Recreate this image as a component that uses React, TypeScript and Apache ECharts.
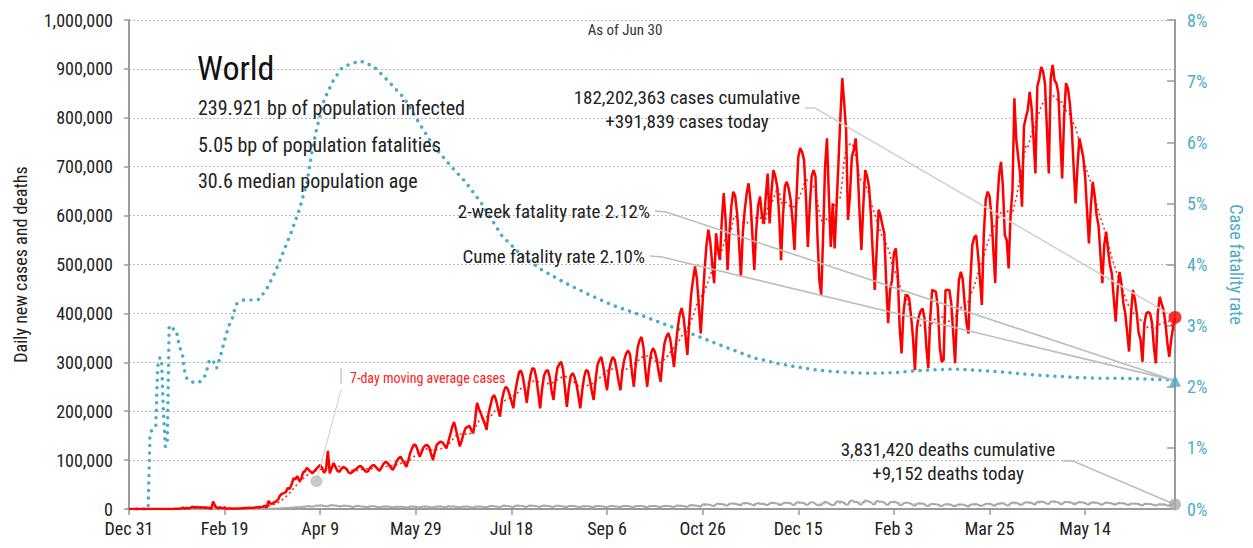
import React, { useEffect, useRef } from "react";
import * as echarts from "echarts";

const FONT = "'Liberation Sans Narrow', 'Roboto Condensed', 'DejaVu Sans Condensed', sans-serif";

const xTickLabels = ["Dec 31", "Feb 19", "Apr 9", "May 29", "Jul 18", "Sep 6", "Oct 26", "Dec 15", "Feb 3", "Mar 25", "May 14"];

// Daily new cases, thousands, day 0 = Dec 31 2019 ... day 547 = Jun 30 2021
const dailyCasesK = [
  0, 0, 0, 0, 0, 0,
  0, 0, 0, 0, 0, 0, 0,
  0, 0, 0, 0, 0, 0, 0,
  0, 0, 0.1, 0.1, 0.3, 0.5, 0.7,
  0.8, 2.6, 0.6, 2.1, 1.7, 2.1, 4.7,
  3.1, 4.0, 3.7, 3.2, 3.6, 2.7, 3.0,
  2.6, 2.0, 0.4, 15.1, 6.5, 2.1, 2.6,
  2.0, 1.9, 1.7, 0.4, 0.9, 1.0, 1.0,
  0.6, 0.9, 0.9, 1.1, 1.4, 1.8, 1.9,
  2.0, 2.5, 2.3, 2.8, 2.9, 3.9, 3.6,
  4.1, 4.6, 7.0, 2.6, 16.7, 10.8, 11.0,
  13.8, 15.6, 19.5, 27.6, 31.2, 32.5, 34.3,
  43.0, 41.4, 49.5, 62.4, 60.9, 67.0, 58.0,
  61, 75, 77, 84, 80, 76, 73,
  78, 82, 86, 90, 84, 74, 80,
  119, 73, 84, 94, 86, 78, 76,
  82, 86, 84, 80, 74, 73, 76,
  80, 82, 86, 88, 85, 80, 76,
  77, 84, 88, 90, 86, 82, 78,
  84, 92, 96, 95, 90, 84, 80,
  88, 98, 104, 107, 100, 94, 86,
  98, 114, 124, 132, 130, 120, 107,
  116, 126, 130, 131, 126, 112, 100,
  118, 132, 135, 138, 136, 130, 124,
  138, 152, 168, 178, 162, 145, 128,
  140, 155, 165, 168, 170, 162, 155,
  182, 217, 205, 195, 185, 175, 162,
  195, 212, 228, 233, 222, 205, 189,
  222, 240, 250, 246, 234, 220, 206,
  240, 262, 280, 283, 270, 245, 217,
  250, 275, 288, 286, 268, 238, 206,
  245, 272, 282, 284, 270, 242, 223,
  262, 288, 296, 301, 285, 245, 209,
  248, 272, 278, 270, 255, 232, 206,
  242, 270, 284, 282, 264, 242, 223,
  264, 295, 305, 311, 292, 266, 243,
  282, 300, 311, 305, 285, 262, 243,
  282, 305, 318, 324, 316, 280, 250,
  296, 330, 345, 352, 332, 285, 250,
  290, 318, 329, 322, 305, 280, 260,
  305, 338, 352, 360, 348, 320, 290,
  335, 372, 398, 411, 392, 355, 315,
  385, 440, 470, 496, 470, 415, 359,
  425, 489, 540, 571, 545, 500, 462,
  564, 530, 509, 590, 646, 590, 489,
  565, 620, 649, 640, 605, 545, 475,
  565, 611, 645, 666, 630, 560, 489,
  570, 620, 639, 600, 584, 640, 686,
  584, 650, 693, 680, 659, 600, 509,
  600, 660, 669, 655, 632, 590, 530,
  630, 720, 738, 730, 714, 640, 536,
  620, 680, 693, 680, 560, 468, 438,
  560, 700, 758, 640, 536, 625, 533,
  620, 707, 800, 881, 830, 775, 591,
  640, 720, 734, 758, 700, 610, 530,
  620, 693, 680, 659, 600, 520, 448,
  530, 612, 600, 580, 564, 460, 380,
  448, 468, 523, 533, 480, 373, 318,
  400, 434, 438, 430, 393, 350, 284,
  370, 393, 405, 410, 390, 330, 288,
  390, 448, 446, 444, 410, 330, 301,
  305, 448, 448, 448, 420, 360, 298,
  400, 468, 485, 470, 420, 380, 359,
  470, 540, 555, 560, 520, 470, 417,
  560, 632, 649, 640, 600, 530, 462,
  620, 683, 710, 660, 560, 550, 492,
  600, 652, 840, 755, 720, 686, 618,
  782, 800, 816, 853, 820, 760, 686,
  864, 880, 904, 895, 870, 780, 686,
  880, 908, 877, 870, 850, 760, 676,
  800, 871, 860, 830, 780, 700, 625,
  700, 758, 740, 720, 680, 610, 543,
  620, 669, 640, 601, 580, 520, 462,
  540, 567, 530, 499, 480, 430, 383,
  450, 485, 460, 421, 400, 360, 322,
  400, 448, 430, 400, 360, 346, 301,
  380, 400, 403, 400, 380, 330, 298,
  400, 434, 420, 407, 380, 340, 311,
  346, 372, 391.839,
];

// Daily new deaths, thousands
const dailyDeathsK = [
  0, 0, 0, 0, 0, 0,
  0, 0, 0, 0, 0, 0, 0,
  0, 0, 0, 0, 0, 0, 0,
  0, 0, 0, 0, 0, 0, 0,
  0, 0.1, 0, 0, 0, 0, 0.1,
  0.1, 0.1, 0.1, 0.1, 0.1, 0.1, 0.1,
  0.1, 0.1, 0, 0.3, 0.2, 0.1, 0.1,
  0.1, 0.1, 0.1, 0.1, 0.1, 0.1, 0.1,
  0, 0, 0, 0, 0, 0.1, 0.1,
  0.1, 0.1, 0.1, 0.1, 0.1, 0.1, 0.2,
  0.2, 0.3, 0.3, 0.4, 0.4, 0.4, 0.6,
  0.8, 0.8, 1.0, 1.1, 1.4, 1.7, 1.8,
  1.8, 2.4, 2.5, 2.9, 3.5, 3.4, 3.3,
  4.1, 4.8, 5.1, 5.8, 6.1, 5.3, 4.9,
  5.9, 7.1, 6.8, 7.6, 7.3, 6.1, 5.7,
  5.4, 7.4, 8.0, 7.1, 7.3, 6.2, 5.1,
  5.4, 7.0, 6.5, 6.5, 6.1, 5.2, 3.9,
  4.8, 6.4, 6.2, 5.5, 5.3, 4.6, 3.7,
  4.0, 6.1, 5.7, 5.4, 5.1, 4.3, 3.4,
  3.9, 5.4, 5.2, 5.1, 4.9, 3.9, 3.2,
  3.9, 4.8, 4.8, 4.6, 4.4, 3.6, 3.0,
  3.8, 4.9, 4.9, 5.0, 4.4, 3.6, 3.0,
  4.1, 5.2, 5.1, 4.9, 4.3, 3.7, 3.2,
  4.2, 5.0, 5.0, 5.4, 4.7, 3.8, 3.3,
  6.4, 5.2, 5.0, 5.1, 4.8, 3.9, 3.3,
  4.4, 5.3, 5.1, 5.1, 4.6, 3.8, 3.2,
  4.6, 5.1, 5.2, 5.2, 4.6, 3.9, 3.6,
  5.2, 6.4, 5.9, 5.4, 5.3, 4.2, 3.8,
  5.5, 7.2, 6.3, 6.0, 5.8, 4.5, 4.1,
  6.1, 7.0, 6.8, 6.4, 5.9, 4.6, 4.2,
  6.6, 7.0, 6.7, 6.4, 5.8, 4.5, 4.3,
  6.3, 7.1, 6.6, 6.3, 5.6, 4.5, 4.1,
  6.4, 6.7, 6.1, 5.9, 5.3, 4.2, 4.0,
  6.3, 6.2, 6.0, 5.7, 5.2, 4.1, 3.8,
  5.1, 6.0, 5.8, 5.7, 5.4, 4.1, 3.8,
  6.1, 6.1, 6.0, 5.8, 5.3, 4.0, 3.9,
  5.4, 6.4, 6.0, 5.6, 5.3, 4.0, 3.7,
  5.6, 6.1, 5.9, 5.6, 5.5, 4.0, 3.8,
  6.1, 6.3, 6.2, 5.9, 5.6, 4.0, 3.7,
  5.4, 6.0, 6.0, 6.2, 5.6, 4.2, 3.8,
  5.6, 6.2, 6.4, 6.0, 5.7, 4.5, 4.0,
  6.5, 7.0, 6.8, 6.6, 5.9, 4.8, 4.4,
  7.3, 8.0, 7.8, 7.4, 6.6, 5.3, 5.0,
  9.3, 9.6, 9.2, 9.1, 8.3, 6.5, 6.2,
  9.6, 11.0, 10.4, 10.2, 9.4, 7.4, 7.0,
  10.7, 11.5, 11.3, 10.8, 9.8, 8.0, 7.6,
  11.5, 12.5, 12.3, 10.9, 10.8, 8.1, 7.3,
  10.6, 12.4, 10.5, 10.3, 10.6, 8.4, 8.0,
  11.3, 12.8, 12.5, 12.0, 11.0, 8.6, 7.9,
  12.0, 13.0, 12.8, 12.5, 11.6, 8.8, 8.3,
  12.8, 13.6, 13.1, 12.8, 11.7, 8.7, 8.5,
  13.0, 14.1, 13.0, 10.5, 8.1, 7.8, 8.2,
  12.7, 14.7, 13.5, 11.5, 8.6, 8.2, 8.9,
  15.1, 14.9, 15.4, 14.1, 12.0, 8.5, 9.0,
  16.2, 17.6, 15.3, 14.9, 13.7, 9.8, 9.2,
  14.1, 17.5, 16.4, 15.3, 13.6, 9.8, 9.5,
  16.6, 15.9, 15.3, 14.9, 12.8, 8.9, 8.6,
  13.7, 14.4, 15.0, 14.3, 12.0, 8.4, 7.5,
  11.3, 13.2, 12.6, 12.5, 10.6, 7.6, 6.8,
  10.0, 11.8, 11.2, 11.3, 9.6, 6.6, 6.0,
  8.9, 10.8, 10.3, 9.9, 9.0, 6.4, 5.8,
  8.5, 9.9, 9.6, 9.6, 8.3, 6.0, 5.5,
  8.0, 9.5, 9.2, 9.1, 7.9, 6.1, 5.3,
  8.4, 9.6, 9.9, 10.4, 8.6, 6.5, 6.0,
  9.0, 10.3, 10.5, 11.3, 9.4, 7.0, 6.7,
  10.2, 11.4, 11.7, 12.0, 10.3, 7.7, 7.3,
  11.3, 13.4, 12.7, 12.9, 11.2, 8.6, 8.5,
  12.6, 14.0, 13.3, 13.6, 12.6, 9.6, 9.0,
  14.5, 14.8, 15.0, 14.6, 13.6, 10.6, 10.0,
  14.7, 15.9, 15.3, 14.2, 13.5, 10.2, 9.9,
  13.8, 14.5, 14.2, 14.0, 12.8, 9.9, 9.5,
  13.1, 14.3, 13.8, 13.5, 12.2, 9.6, 9.1,
  12.5, 13.8, 13.1, 12.9, 11.5, 9.4, 8.9,
  11.8, 13.3, 12.9, 12.4, 11.2, 9.3, 8.6,
  11.7, 12.3, 11.9, 11.9, 10.6, 8.6, 8.3,
  10.9, 11.4, 11.0, 10.8, 9.9, 8.1, 7.3,
  10.2, 10.9, 10.3, 10.3, 9.4, 7.6, 6.9,
  8.8, 9.6, 9.4, 9.6, 8.6, 7.0, 6.5,
  8.9, 9.5, 9.152,
];

// Case fatality rate (%), sampled on the given days
const cfrDays = [0, 10, 11, 12, 13, 14, 15, 16, 17, 18, 19, 20, 21, 22, 23, 24, 25, 26, 27, 28, 29, 30, 31, 33, 35, 37, 39, 40, 41, 42, 44, 45, 46, 48, 50, 52, 54, 56, 60, 64, 68, 72, 76, 79, 85, 89, 93, 96, 98, 102, 107, 111, 115, 121, 128, 135, 144, 152, 159, 168, 176, 185, 195, 206, 216, 228, 241, 254, 268, 282, 294, 306, 316, 327, 338, 348, 358, 368, 378, 389, 400, 411, 422, 432, 443, 453, 464, 475, 486, 496, 507, 517, 527, 537, 547];
const cfrPct = [0, 0, 1.24, 1.29, 1.32, 1.35, 2.33, 2.47, 2.47, 1.6, 1.02, 1.05, 3.0, 2.98, 2.96, 2.88, 2.88, 2.71, 2.6, 2.52, 2.27, 2.15, 2.11, 2.08, 2.06, 2.08, 2.15, 2.19, 2.31, 2.43, 2.44, 2.31, 2.31, 2.52, 2.76, 2.98, 3.12, 3.35, 3.42, 3.42, 3.43, 3.6, 3.85, 4.07, 4.54, 4.89, 5.33, 5.9, 6.2, 6.69, 7.02, 7.2, 7.27, 7.33, 7.24, 7.02, 6.72, 6.3, 5.95, 5.62, 5.35, 4.97, 4.47, 4.13, 3.91, 3.7, 3.5, 3.32, 3.17, 3.0, 2.87, 2.72, 2.6, 2.47, 2.39, 2.33, 2.28, 2.25, 2.23, 2.22, 2.23, 2.26, 2.28, 2.29, 2.27, 2.25, 2.22, 2.19, 2.17, 2.15, 2.14, 2.14, 2.13, 2.12, 2.11];

const lastDay = dailyCasesK.length - 1;
const cumeFatalityRate = 2.1;
const maLabelPoint = [98, 57]; // day, thousands

function movingAvg(arr: number[]) {
  return arr.map((_, i) => {
    const s = Math.max(0, i - 6);
    let sum = 0;
    for (let j = s; j <= i; j++) sum += arr[j];
    return sum / (i - s + 1);
  });
}

export default function App() {
  const ref = useRef<HTMLDivElement>(null);
  useEffect(() => {
    if (!ref.current) return;
    const chart = echarts.init(ref.current, undefined, { renderer: "svg" });
    const casesMA = movingAvg(dailyCasesK);
    const deathsMA = movingAvg(dailyDeathsK);
    const option: any = {
      animation: false,
      textStyle: { fontFamily: FONT },
      grid: { left: 129, right: 68, top: 20, bottom: 39, containLabel: false },
      xAxis: {
        type: "value",
        min: 0,
        max: lastDay,
        interval: 50,
        axisLine: { show: true, lineStyle: { color: "#9a9a9a", width: 2 } },
        axisTick: { show: true, length: 6, lineStyle: { color: "#9a9a9a", width: 1.5 } },
        axisLabel: {
          color: "#222",
          fontSize: 18,
          fontFamily: FONT,
          margin: 10,
          showMaxLabel: false,
          formatter: (v: number) => xTickLabels[Math.round(v / 50)] ?? "",
        },
        splitLine: { show: false },
      },
      yAxis: [
        {
          type: "value",
          min: 0,
          max: 1000000,
          interval: 100000,
          name: "Daily new cases and deaths",
          nameLocation: "middle",
          nameRotate: 90,
          nameGap: 100,
          nameTextStyle: { color: "#222", fontSize: 18, fontFamily: FONT },
          axisLine: { show: true, lineStyle: { color: "#9a9a9a", width: 2 } },
          axisTick: { show: true, length: 5, lineStyle: { color: "#9a9a9a", width: 1.5 } },
          axisLabel: {
            color: "#222",
            fontSize: 18,
            fontFamily: FONT,
            margin: 16,
            formatter: (v: number) => v.toLocaleString("en-US"),
          },
          splitLine: { show: true, lineStyle: { color: "#bbbbbb", type: [2, 2], width: 1 } },
        },
        {
          type: "value",
          min: 0,
          max: 8,
          interval: 1,
          position: "right",
          name: "Case fatality rate",
          nameLocation: "middle",
          nameRotate: -90,
          nameGap: 52,
          nameTextStyle: { color: "#4bacc6", fontSize: 18, fontFamily: FONT },
          axisLine: { show: true, lineStyle: { color: "#9a9a9a", width: 2 } },
          axisTick: { show: true, inside: true, length: 8, lineStyle: { color: "#9a9a9a", width: 1.5 } },
          axisLabel: {
            color: "#4bacc6",
            fontSize: 18,
            fontFamily: FONT,
            margin: 12,
            formatter: (v: number) => v + "%",
          },
          splitLine: { show: false },
        },
      ],
      series: [
        {
          name: "CFR",
          type: "line",
          yAxisIndex: 1,
          showSymbol: false,
          data: cfrDays.map((d, i) => [d, cfrPct[i]]),
          lineStyle: { color: "#4bacc6", width: 3.5, type: [0.01, 7.5], cap: "round" },
          z: 2,
        },
        {
          name: "Deaths MA",
          type: "line",
          showSymbol: false,
          data: deathsMA.map((v, i) => [i, v * 1000]),
          lineStyle: { color: "#c4c4c4", width: 1.5, type: [2, 3] },
          z: 2,
        },
        {
          name: "Deaths",
          type: "line",
          showSymbol: false,
          data: dailyDeathsK.map((v, i) => [i, v * 1000]),
          lineStyle: { color: "#a8a8a8", width: 2 },
          z: 3,
        },
        {
          name: "Cases MA",
          type: "line",
          showSymbol: false,
          data: casesMA.map((v, i) => [i, v * 1000]),
          lineStyle: { color: "#ff2020", width: 1.6, type: [2, 3] },
          z: 3,
        },
        {
          name: "Cases",
          type: "line",
          showSymbol: false,
          data: dailyCasesK.map((v, i) => [i, v * 1000]),
          lineStyle: { color: "#ff0000", width: 2.5 },
          z: 4,
        },
        {
          name: "end cases",
          type: "scatter",
          symbol: "circle",
          symbolSize: 13,
          itemStyle: { color: "#ff0000" },
          data: [[lastDay, dailyCasesK[lastDay] * 1000]],
          z: 6,
        },
        {
          name: "end deaths",
          type: "scatter",
          symbol: "circle",
          symbolSize: 12,
          itemStyle: { color: "#aaaaaa" },
          data: [[lastDay, dailyDeathsK[lastDay] * 1000]],
          z: 6,
        },
        {
          name: "ma label dot",
          type: "scatter",
          symbol: "circle",
          symbolSize: 12,
          itemStyle: { color: "#bdbdbd" },
          data: [[maLabelPoint[0], maLabelPoint[1] * 1000]],
          z: 6,
        },
        {
          name: "end cfr",
          type: "scatter",
          yAxisIndex: 1,
          symbol: "triangle",
          symbolSize: 12,
          itemStyle: { color: "#4bacc6" },
          data: [[lastDay, cumeFatalityRate]],
          z: 6,
        },
      ],
    };
    chart.setOption(option);

    const pCases = chart.convertToPixel({ xAxisIndex: 0, yAxisIndex: 0 }, [lastDay, dailyCasesK[lastDay] * 1000]) as number[];
    const pDeaths = chart.convertToPixel({ xAxisIndex: 0, yAxisIndex: 0 }, [lastDay, dailyDeathsK[lastDay] * 1000]) as number[];
    const pCfr = chart.convertToPixel({ xAxisIndex: 0, yAxisIndex: 1 }, [lastDay, cumeFatalityRate]) as number[];
    const pMa = chart.convertToPixel({ xAxisIndex: 0, yAxisIndex: 0 }, [maLabelPoint[0], maLabelPoint[1] * 1000]) as number[];

    const txt = (text: string, x: number, y: number, size: number, align = "left", fill = "#222", weight = "normal") => ({
      type: "text",
      silent: true,
      z: 20,
      style: { text, x, y, fill, fontSize: size, fontFamily: FONT, fontWeight: weight, align, verticalAlign: "middle" },
    });
    const pl = (points: number[][], stroke = "#c4c4c4", w = 1.5) => ({
      type: "polyline",
      silent: true,
      z: 5,
      shape: { points },
      style: { stroke, lineWidth: w, fill: null },
    });

    chart.setOption({
      graphic: [
        pl([[805, 108], [815, 108], pCases], "#d0d0d0", 1.6),
        pl([[655, 211], [666, 212], pCfr], "#bdbdbd", 1.6),
        pl([[650, 256], [662, 257], pCfr], "#bdbdbd", 1.6),
        pl([[1063, 461], [1073, 461], pDeaths], "#bdbdbd", 1.6),
        pl([[341, 368], [341, 384]], "#d8d8d8", 2),
        pl([[341, 390], pMa], "#cfcfcf", 1),
        txt("As of Jun 30", 625, 30, 15, "center", "#333"),
        txt("World", 197, 68, 34, "left", "#111"),
        txt("239.921 bp of population infected", 198, 108, 20),
        txt("5.05 bp of population fatalities", 198, 145, 20),
        txt("30.6 median population age", 198, 181, 20),
        txt("182,202,363 cases cumulative", 687, 97, 19, "center"),
        txt("+391,839 cases today", 687, 121, 19, "center"),
        txt("2-week fatality rate 2.12%", 650, 211, 19, "right"),
        txt("Cume fatality rate 2.10%", 645, 256, 19, "right"),
        txt("3,831,420 deaths cumulative", 948, 449, 19, "center"),
        txt("+9,152 deaths today", 948, 473, 19, "center"),
        txt("7-day moving average cases", 350, 378, 14, "left", "#ff2020"),
      ],
    });

    return () => chart.dispose();
  }, []);
  return <div ref={ref} style={{ position: "absolute", left: 0, top: 0, width: 1253, height: 548 }} />;
}
